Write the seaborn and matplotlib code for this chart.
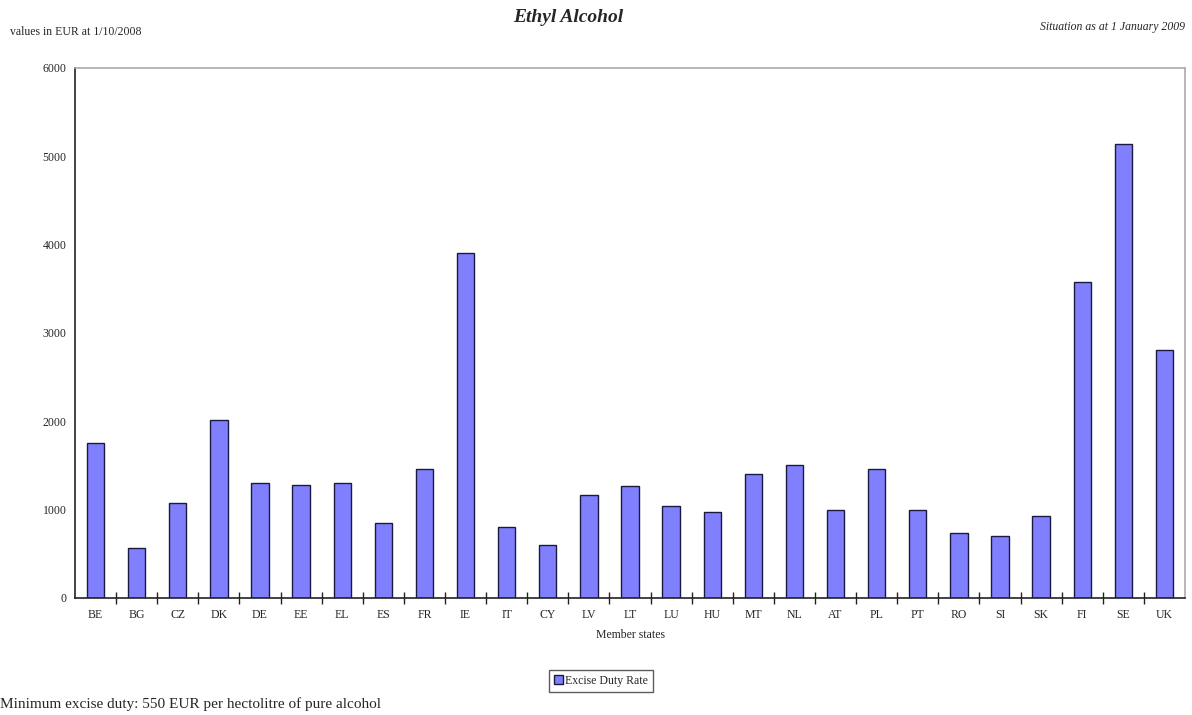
import matplotlib
matplotlib.use("Agg")
import matplotlib.pyplot as plt
import seaborn as sns
import pandas as pd
from matplotlib.ticker import FixedLocator

countries = ["BE", "BG", "CZ", "DK", "DE", "EE", "EL", "ES", "FR", "IE", "IT", "CY", "LV",
             "LT", "LU", "HU", "MT", "NL", "AT", "PL", "PT", "RO", "SI", "SK", "FI", "SE", "UK"]
rates = [1752, 562, 1070, 2010, 1303, 1278, 1300, 845, 1458, 3910, 805, 598, 1162,
         1267, 1041, 974, 1406, 1504, 1000, 1466, 996, 740, 697, 933, 3575, 5136, 2802]
y_ticks = [0, 1000, 2000, 3000, 4000, 5000, 6000]

sns.set_theme(style="white")
plt.rcParams['font.family'] = ['Liberation Serif', 'DejaVu Serif']

df = pd.DataFrame({"Member states": countries, "Excise Duty Rate": rates})

fig = plt.figure(figsize=(11.92, 7.15), dpi=100)
ax = fig.add_axes([75 / 1192, 1 - 598 / 715, 1110 / 1192, 530 / 715])

sns.barplot(data=df, x="Member states", y="Excise Duty Rate", color="#8080FF",
            saturation=1, width=0.42, edgecolor="#1a1a40", linewidth=1.0, ax=ax,
            label="Excise Duty Rate")

ax.set_ylim(0, 6000)
ax.set_xlim(-0.5, len(countries) - 0.5)
ax.set_yticks(y_ticks)
ax.set_yticklabels([str(v) for v in y_ticks], fontsize=8.5)
ax.tick_params(axis="y", direction="inout", length=6, width=1, color="#222222", pad=3)
ax.tick_params(axis="x", which="major", length=0, labelsize=8.5, pad=8)
ax.xaxis.set_minor_locator(FixedLocator([i + 0.5 for i in range(len(countries) - 1)]))
ax.tick_params(axis="x", which="minor", direction="inout", length=8, width=1,
               color="#222222", bottom=True)
ax.set_xlabel("Member states", fontsize=8.5, labelpad=6)
ax.set_ylabel("")

for s in ["left", "bottom"]:
    ax.spines[s].set_color("#222222")
    ax.spines[s].set_linewidth(1.2)
for s in ["top", "right"]:
    ax.spines[s].set_color("#aaaaaa")
    ax.spines[s].set_linewidth(1.2)

leg = ax.legend(loc="center", bbox_to_anchor=(601 / 1192, 1 - 681 / 715),
                bbox_transform=fig.transFigure, fontsize=8.5, frameon=True,
                fancybox=False, edgecolor="#333333", handlelength=0.8,
                handleheight=0.8, handletextpad=0.2, borderpad=0.4)
leg.get_frame().set_linewidth(1.0)

fig.text(568 / 1192, 1 - 17 / 715, "Ethyl Alcohol", ha="center", va="center",
         fontsize=14, fontweight="bold", fontstyle="italic")
fig.text(10 / 1192, 1 - 32 / 715, "values in EUR at 1/10/2008", ha="left",
         va="center", fontsize=8.5)
fig.text(1185 / 1192, 1 - 27 / 715, "Situation as at 1 January 2009", ha="right",
         va="center", fontsize=8.5, fontstyle="italic")
fig.text(0 / 1192, 1 - 704 / 715, "Minimum excise duty: 550 EUR per hectolitre of pure alcohol",
         ha="left", va="center", fontsize=11)

fig.savefig("out.png", dpi=100, facecolor="white")
